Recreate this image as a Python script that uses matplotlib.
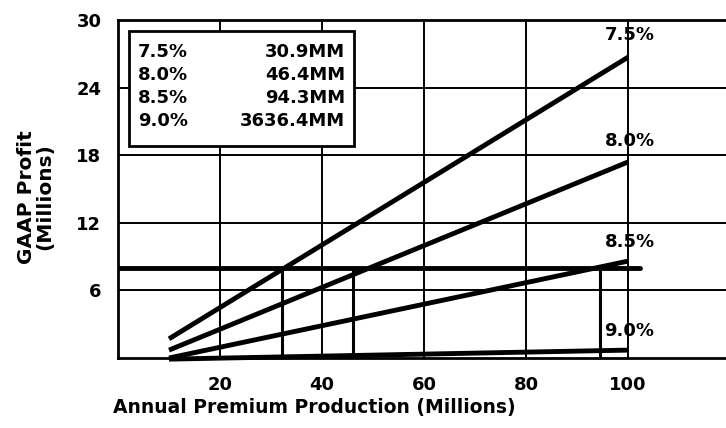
import matplotlib
matplotlib.use("Agg")
import matplotlib.pyplot as plt
from matplotlib.patches import Rectangle

plt.rcParams['font.family'] = ['DejaVu Sans']
plt.rcParams['font.weight'] = 'bold'

# Data
rates = ["7.5%", "8.0%", "8.5%", "9.0%"]
premium_start = [10, 10, 10, 10]
premium_end = [100, 100, 100, 100]
profit_start = [1.7, 0.7, 0.0, -0.1]
profit_end = [26.7, 17.4, 8.6, 0.7]
target_profit = 8
breakeven_premium = [32.2, 46.1, 94.5]
legend_values = ["30.9MM", "46.4MM", "94.3MM", "3636.4MM"]
label_y = [28.7, 19.3, 10.3, 2.4]
xticks = [20, 40, 60, 80, 100]
yticks = [6, 12, 18, 24, 30]

FS = 13
W, H = 726, 428
fig = plt.figure(figsize=(W / 100, H / 100), dpi=100)
ax = fig.add_axes([118 / W, 1 - 358 / H, 1 - 118 / W, (358 - 20) / H])
ax.set_xlim(0, 119.2)
ax.set_ylim(0, 30)

# grid
for xv in xticks:
    ax.axvline(xv, color='black', lw=1.4, zorder=1)
for yv in yticks:
    ax.axhline(yv, color='black', lw=1.4, zorder=1)

for s in ['left', 'bottom', 'top']:
    ax.spines[s].set_linewidth(2.0)
ax.spines['right'].set_visible(False)

# lines
for x0, x1, y0, y1 in zip(premium_start, premium_end, profit_start, profit_end):
    ax.plot([x0, x1], [y0, y1], color='black', lw=3.5, solid_capstyle='butt', zorder=3, clip_on=False)

# horizontal target line
ax.plot([0, 102.4], [target_profit, target_profit], color='black', lw=3.5, zorder=3, solid_capstyle='round')
for bx in breakeven_premium:
    ax.plot([bx, bx], [0, target_profit], color='black', lw=2.2, zorder=3)

# rate labels
for r, ly in zip(rates, label_y):
    ax.text(95.4, ly, r, fontsize=FS, fontweight='bold', ha='left', va='center', zorder=4)

ax.set_xticks(xticks)
ax.set_yticks(yticks)
ax.tick_params(axis='x', length=0, pad=13, labelsize=FS)
ax.tick_params(axis='y', length=0, pad=12, labelsize=FS)
for lab in ax.get_xticklabels() + ax.get_yticklabels():
    lab.set_fontweight('bold')

# legend box
box = Rectangle((129 / W, 1 - 146 / H), (354 - 129) / W, (146 - 31) / H, transform=fig.transFigure,
                facecolor='white', edgecolor='black', lw=2.0, zorder=5)
fig.patches.append(box)
row_y = [52, 75, 98, 121]
for r, v, ry in zip(rates, legend_values, row_y):
    fig.text(138 / W, 1 - ry / H, r, fontsize=FS, fontweight='bold', ha='left', va='center', zorder=6)
    fig.text(345 / W, 1 - ry / H, v, fontsize=FS, fontweight='bold', ha='right', va='center', zorder=6)

fig.text(113 / W, 1 - 407 / H, "Annual Premium Production (Millions)", fontsize=13.5, fontweight='bold',
         ha='left', va='center')
fig.text(36 / W, 1 - 197 / H, "GAAP Profit\n(Millions)", fontsize=14.5, fontweight='bold',
         ha='center', va='center', rotation=90, linespacing=0.95)

fig.savefig("out.png", dpi=100)
